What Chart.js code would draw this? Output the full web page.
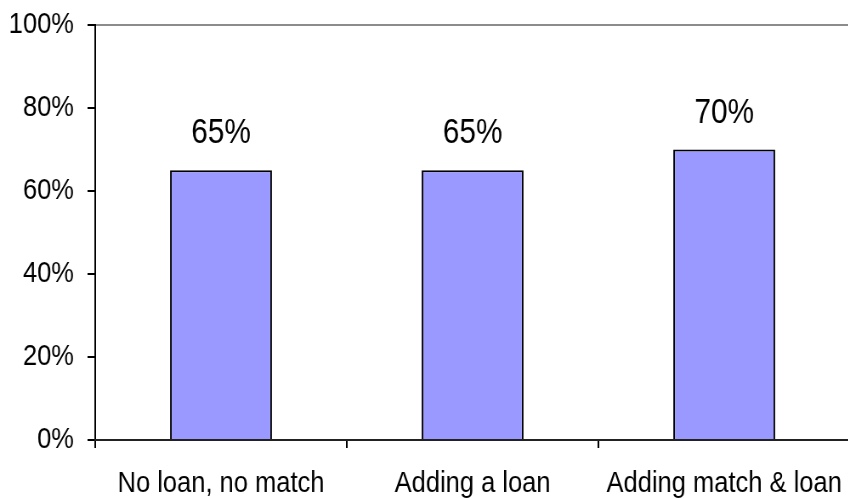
<!DOCTYPE html>
<html>
<head>
<meta charset="utf-8">
<script src="https://cdn.jsdelivr.net/npm/chart.js@4"></script>
<style>
  html, body { margin: 0; background: #fff; overflow: hidden; }
  /* the original text is a narrow face; squeeze the whole chart to match */
  #wrap { width: 1000px; height: 498px; transform: scaleX(0.85); transform-origin: 0 0; }
</style>
</head>
<body>
<div id="wrap"><canvas id="barChart" width="1000" height="498"></canvas></div>
<script>
const categories = ['No loan, no match', 'Adding a loan', 'Adding match & loan'];
const values = [65, 65, 70];
const yTicks = [0, 20, 40, 60, 80, 100];

const fontFamily = "'Liberation Sans', Arial, sans-serif";

// draws the percentage above each bar
const valueLabels = {
  id: 'valueLabels',
  afterDatasetsDraw(chart) {
    const ctx = chart.ctx;
    const meta = chart.getDatasetMeta(0);
    ctx.save();
    ctx.font = '35px ' + fontFamily;
    ctx.fillStyle = '#000';
    ctx.textAlign = 'center';
    ctx.textBaseline = 'alphabetic';
    meta.data.forEach((bar, i) => {
      ctx.fillText(values[i] + '%', bar.x, bar.y - 27);
    });
    ctx.restore();
  }
};

new Chart(document.getElementById('barChart'), {
  type: 'bar',
  data: {
    labels: categories,
    datasets: [{
      data: values,
      backgroundColor: '#9999ff',
      borderColor: '#000',
      borderWidth: 2,
      barPercentage: 0.405,
      categoryPercentage: 1
    }]
  },
  options: {
    responsive: false,
    animation: false,
    layout: { padding: { top: 25, right: 0, left: 0, bottom: 0 } },
    plugins: {
      legend: { display: false },
      tooltip: { enabled: false }
    },
    scales: {
      y: {
        min: 0,
        max: 100,
        afterBuildTicks(scale) {
          scale.ticks = yTicks.map(v => ({ value: v }));
        },
        afterFit(scale) {
          scale.width = 112;
          scale.paddingTop = 0;
          scale.paddingBottom = 0;
        },
        border: { display: true, color: '#000', width: 2 },
        grid: {
          drawOnChartArea: true,
          tickLength: 9,
          color: ctx => ctx.tick && ctx.tick.value === 100 ? '#8c8c8c' : 'rgba(0,0,0,0)',
          tickColor: '#000',
          lineWidth: 2
        },
        ticks: {
          padding: 16,
          color: '#000',
          font: { family: fontFamily, size: 30 },
          callback: v => v + '%'
        }
      },
      x: {
        afterFit(scale) {
          scale.height = 58;
          scale.paddingLeft = 0;
          scale.paddingRight = 0;
        },
        border: { display: true, color: '#222', width: 2 },
        grid: {
          offset: true,
          drawOnChartArea: false,
          tickLength: 8,
          color: '#000',
          lineWidth: 2
        },
        ticks: {
          padding: 18,
          maxRotation: 0,
          minRotation: 0,
          autoSkip: false,
          color: '#000',
          font: { family: fontFamily, size: 30 }
        }
      }
    }
  },
  plugins: [valueLabels]
});
</script>
</body>
</html>
